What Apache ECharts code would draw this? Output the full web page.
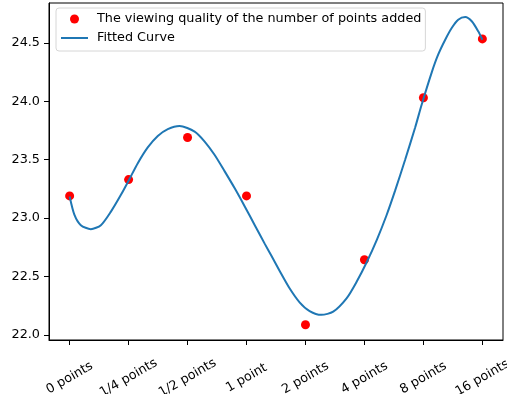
<!DOCTYPE html>
<html>
<head>
<meta charset="utf-8">
<script src="https://cdn.jsdelivr.net/npm/echarts@6/dist/echarts.min.js"></script>
<style>
html,body{margin:0;padding:0;background:#fff;}
#c{width:507px;height:394px;}
</style>
</head>
<body>
<div id="c"></div>
<script>
var categories = ['0 points','1/4 points','1/2 points','1 point','2 points','4 points','8 points','16 points'];
var qualityValues = [23.19, 23.33, 23.69, 23.19, 22.088, 22.644, 24.03, 24.533];
var fitX = [0, 0.08, 0.19, 0.36, 0.53, 0.70, 0.87, 1.01, 1.156, 1.325, 1.495, 1.665, 1.864, 2.12, 2.29, 2.46, 2.63, 2.80, 2.97, 3.14, 3.31, 3.42, 3.56, 3.73, 3.90, 4.07, 4.27, 4.47, 4.70, 4.87, 5.04, 5.21, 5.375, 5.52, 5.69, 5.86, 5.97, 6.14, 6.25, 6.37, 6.48, 6.59, 6.71, 6.82, 6.93, 7.0];
var fitY = [23.185, 23.03, 22.94, 22.906, 22.94, 23.056, 23.20, 23.33, 23.47, 23.605, 23.703, 23.762, 23.789, 23.74, 23.655, 23.54, 23.40, 23.255, 23.10, 22.94, 22.78, 22.68, 22.55, 22.40, 22.28, 22.205, 22.173, 22.20, 22.316, 22.458, 22.625, 22.815, 23.025, 23.235, 23.50, 23.775, 23.97, 24.245, 24.398, 24.526, 24.626, 24.697, 24.72, 24.684, 24.598, 24.526];
var yTicks = [22.0, 22.5, 23.0, 23.5, 24.0, 24.5];
var scatterName = 'The viewing quality of the number of points added';
var lineName = 'Fitted Curve';

var xTicks = categories.map(function(_, i){ return i; });
var scatterData = qualityValues.map(function(v, i){ return [i, v]; });
var lineData = fitX.map(function(x, i){ return [x, fitY[i]]; });

var font = 'DejaVu Sans';
var fs = 12.8;
var chart = echarts.init(document.getElementById('c'));
chart.setOption({
  animation: false,
  backgroundColor: '#fff',
  grid: {left: 49, top: 3, right: 4, bottom: 54, outerBoundsMode: 'none', containLabel: false,
         show: true, borderColor: '#000', borderWidth: 1, backgroundColor: 'transparent'},
  legend: {
    left: 56, top: 8, orient: 'vertical',
    itemWidth: 27, itemHeight: 9, itemGap: 5,
    padding: [4, 4, 6, 4],
    borderColor: '#d6d6d6', borderWidth: 1, borderRadius: 3,
    backgroundColor: 'rgba(255,255,255,0.8)',
    textStyle: {fontSize: fs, fontFamily: font, color: '#000', lineHeight: 14, padding: [0, 0, 0, 4]},
    data: [
      {name: scatterName, icon: 'circle', itemStyle: {color: '#ff0000', opacity: 1}},
      {name: lineName, itemStyle: {opacity: 0}}
    ]
  },
  xAxis: {
    type: 'value', min: -0.35, max: 7.35,
    splitLine: {show: false},
    axisLine: {show: true, onZero: false, lineStyle: {color: '#000', width: 1}},
    axisTick: {show: true, length: 5, lineStyle: {color: '#000'}, customValues: xTicks},
    axisLabel: {
      customValues: xTicks,
      rotate: 30, align: 'center', verticalAlign: 'middle', margin: 38,
      fontSize: fs, fontFamily: font, color: '#000',
      formatter: function(v){ return categories[Math.round(v)]; }
    }
  },
  yAxis: {
    type: 'value', min: 21.958, max: 24.84,
    splitLine: {show: false},
    axisLine: {show: true, onZero: false, lineStyle: {color: '#000', width: 1}},
    axisTick: {show: true, length: 5, lineStyle: {color: '#000'}, customValues: yTicks},
    axisLabel: {
      customValues: yTicks, margin: 9,
      fontSize: fs, fontFamily: font, color: '#000',
      formatter: function(v){ return v.toFixed(1); }
    }
  },
  series: [
    {
      name: scatterName, type: 'scatter', data: scatterData,
      symbol: 'circle', symbolSize: 9,
      itemStyle: {color: '#ff0000', opacity: 1}, z: 2
    },
    {
      name: lineName, type: 'line', data: lineData,
      symbol: 'none', smooth: 0.25,
      lineStyle: {color: '#1f77b4', width: 2}, itemStyle: {color: '#1f77b4'}, z: 3
    }
  ]
});
</script>
</body>
</html>
